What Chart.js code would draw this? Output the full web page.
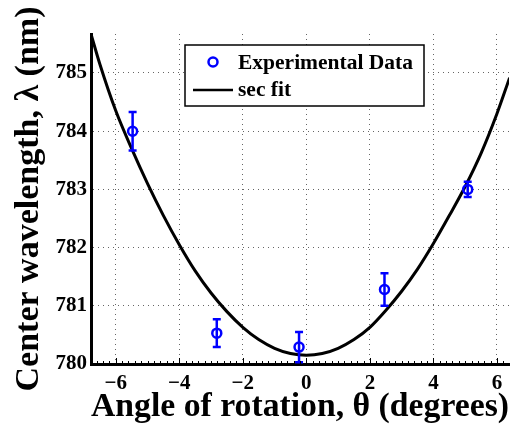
<!DOCTYPE html>
<html>
<head>
<meta charset="utf-8">
<script src="https://cdn.jsdelivr.net/npm/chart.js@4.4.0/dist/chart.umd.min.js"></script>
<style>
  html, body { margin: 0; padding: 0; background: #fff; }
  #wrap { width: 516px; height: 424px; }
</style>
</head>
<body>
<div id="wrap"><canvas id="chart" width="516" height="424"></canvas></div>
<script>
// measured points (angle in degrees, center wavelength in nm, error in nm)
const expAngles = [-5.47, -2.82, -0.23, 2.46, 5.08];
const expWavelengths = [784.0, 780.53, 780.29, 781.28, 783.0];
const expErrors = [0.33, 0.24, 0.26, 0.28, 0.13];

// sec fit curve
const fitAngles = [-6.78, -6.5, -6.0, -5.5, -5.0, -4.5, -4.0, -3.5, -3.0, -2.5, -2.0, -1.5, -1.0, -0.5, 0,
                   0.5, 1.0, 1.5, 2.0, 2.5, 3.0, 3.5, 4.0, 4.5, 5.0, 5.5, 6.0, 6.4];
const fitWavelengths = [785.67, 785.15, 784.35, 783.70, 783.10, 782.55, 782.05, 781.60, 781.22, 780.90, 780.63, 780.42, 780.27, 780.18, 780.15,
                        780.18, 780.27, 780.42, 780.63, 780.92, 781.25, 781.63, 782.07, 782.55, 783.05, 783.62, 784.30, 784.92];

const xTickValues = [-6, -4, -2, 0, 2, 4, 6];
const yTickValues = [780, 781, 782, 783, 784, 785];

const serif = '"Liberation Serif", "Times New Roman", serif';
const blue = '#0000ff';

const errorBars = {
    id: 'errorBars',
    afterDatasetsDraw(chart) {
        const ctx = chart.ctx;
        const x = chart.scales.x, y = chart.scales.y;
        ctx.save();
        ctx.strokeStyle = blue;
        ctx.lineWidth = 2.5;
        expAngles.forEach((a, i) => {
            const px = x.getPixelForValue(a);
            const top = y.getPixelForValue(expWavelengths[i] + expErrors[i]);
            const bot = y.getPixelForValue(expWavelengths[i] - expErrors[i]);
            ctx.beginPath();
            ctx.moveTo(px, top); ctx.lineTo(px, bot);
            ctx.moveTo(px - 4, top); ctx.lineTo(px + 4, top);
            ctx.moveTo(px - 4, bot); ctx.lineTo(px + 4, bot);
            ctx.stroke();
        });
        ctx.restore();
    }
};

const axisTicks = {
    id: 'axisTicks',
    afterDraw(chart) {
        const ctx = chart.ctx;
        const x = chart.scales.x;
        const bottom = chart.chartArea.bottom;
        ctx.save();
        ctx.strokeStyle = '#000';
        ctx.lineWidth = 1;
        ctx.beginPath();
        for (let v = -6.6; v <= 6.4; v += 0.2) {
            const px = Math.round(x.getPixelForValue(v)) + 0.5;
            const isMajor = Math.abs(v / 2 - Math.round(v / 2)) < 0.01;
            ctx.moveTo(px, bottom);
            ctx.lineTo(px, bottom - (isMajor ? 6 : 3));
        }
        ctx.stroke();
        ctx.restore();
    }
};

const boxLegend = {
    id: 'boxLegend',
    afterDraw(chart) {
        const ctx = chart.ctx;
        ctx.save();
        ctx.fillStyle = '#fff';
        ctx.fillRect(185, 45, 239, 61);
        ctx.strokeStyle = '#000';
        ctx.lineWidth = 1.5;
        ctx.strokeRect(185, 45, 239, 61);

        ctx.strokeStyle = blue;
        ctx.lineWidth = 2.5;
        ctx.beginPath();
        ctx.arc(213, 62, 4.5, 0, Math.PI * 2);
        ctx.stroke();

        ctx.strokeStyle = '#000';
        ctx.lineWidth = 2.5;
        ctx.beginPath();
        ctx.moveTo(193, 90); ctx.lineTo(233, 90);
        ctx.stroke();

        ctx.fillStyle = '#000';
        ctx.font = 'bold 21.5px ' + serif;
        ctx.textBaseline = 'middle';
        ctx.fillText('Experimental Data', 238, 63);
        ctx.fillText('sec fit', 238, 90);
        ctx.restore();
    }
};

new Chart(document.getElementById('chart'), {
    type: 'scatter',
    data: {
        datasets: [{
            label: 'Experimental Data',
            data: expAngles.map((a, i) => ({ x: a, y: expWavelengths[i] })),
            pointStyle: 'circle',
            pointRadius: 4.5,
            pointBorderWidth: 2.5,
            pointBorderColor: blue,
            pointBackgroundColor: 'rgba(0,0,0,0)',
            showLine: false,
            order: 0
        }, {
            label: 'sec fit',
            data: fitAngles.map((a, i) => ({ x: a, y: fitWavelengths[i] })),
            showLine: true,
            borderColor: '#000',
            borderWidth: 3,
            pointRadius: 0,
            tension: 0.4,
            cubicInterpolationMode: 'monotone',
            order: 1
        }]
    },
    options: {
        responsive: false,
        animation: false,
        devicePixelRatio: 1,
        layout: { padding: { top: 34, right: 0, left: 0, bottom: 0 } },
        plugins: { legend: { display: false }, tooltip: { enabled: false } },
        scales: {
            x: {
                type: 'linear',
                min: -6.78,
                max: 6.38,
                afterBuildTicks: s => { s.ticks = xTickValues.map(v => ({ value: v })); },
                afterFit: s => { s.height = 60; },
                ticks: {
                    color: '#000',
                    padding: 7,
                    font: { family: serif, size: 21, weight: 'bold' },
                    callback: v => (v < 0 ? '\u2212' + Math.abs(v) : String(v))
                },
                grid: { color: '#666', lineWidth: 1, drawTicks: false },
                border: { display: true, color: '#000', width: 3, dash: [1, 4] },
                title: {
                    display: true,
                    text: 'Angle of rotation, \u03b8 (degrees)',
                    color: '#000',
                    font: { family: serif, size: 34, weight: 'bold', lineHeight: 1 },
                    padding: { top: 0, bottom: 0 }
                }
            },
            y: {
                type: 'linear',
                min: 780,
                max: 785.67,
                afterBuildTicks: s => { s.ticks = yTickValues.map(v => ({ value: v })); },
                afterFit: s => { s.width = 91; },
                ticks: {
                    color: '#000',
                    padding: 4,
                    font: { family: serif, size: 21, weight: 'bold' }
                },
                grid: { color: '#666', lineWidth: 1, drawTicks: false },
                border: { display: true, color: '#000', width: 3, dash: [1, 4] },
                title: {
                    display: true,
                    text: 'Center wavelength, \u03bb (nm)',
                    color: '#000',
                    font: { family: serif, size: 34, weight: 'bold', lineHeight: 1 },
                    padding: { top: 12, bottom: 0 }
                }
            }
        }
    },
    plugins: [errorBars, axisTicks, boxLegend]
});
</script>
</body>
</html>
